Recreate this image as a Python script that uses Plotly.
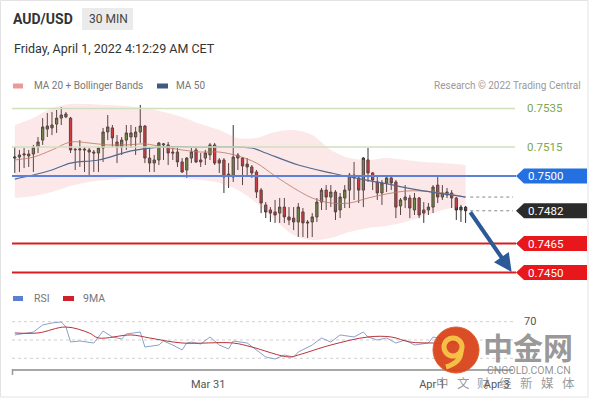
import plotly.graph_objects as go

W, H = 590, 400

# --- candles (30 min, AUD/USD) ---
opens = [0.75093, 0.75098, 0.75109, 0.75104, 0.75114, 0.75150, 0.75186, 0.75243, 0.75249, 0.75269,
         0.75300, 0.75306, 0.75300, 0.75135, 0.75135, 0.75140, 0.75135, 0.75124, 0.75119, 0.75145,
         0.75228, 0.75249, 0.75176, 0.75150, 0.75186, 0.75202, 0.75202, 0.75228, 0.75259, 0.75093,
         0.75067, 0.75083, 0.75161, 0.75161, 0.75124, 0.75124, 0.75073, 0.75031, 0.75093, 0.75135,
         0.75083, 0.75093, 0.75109, 0.75161, 0.75083, 0.75083, 0.75000, 0.74995, 0.75109, 0.75093,
         0.75062, 0.75047, 0.75021, 0.74927, 0.74850, 0.74824, 0.74814, 0.74808, 0.74839, 0.74788,
         0.74782, 0.74762, 0.74814, 0.74762, 0.74762, 0.74788, 0.74865, 0.74927, 0.74891, 0.74917,
         0.74824, 0.74886, 0.74927, 0.75005, 0.74990, 0.74927, 0.75083, 0.75016, 0.74969, 0.74912,
         0.74964, 0.74990, 0.74969, 0.74845, 0.74876, 0.74886, 0.74824, 0.74886, 0.74824, 0.74824,
         0.74839, 0.74953, 0.74891, 0.74902, 0.74912, 0.74886, 0.74824, 0.74839]
highs = [0.75150, 0.75135, 0.75145, 0.75135, 0.75161, 0.75202, 0.75300, 0.75326, 0.75332, 0.75342,
         0.75357, 0.75332, 0.75306, 0.75145, 0.75186, 0.75150, 0.75145, 0.75135, 0.75150, 0.75249,
         0.75316, 0.75264, 0.75212, 0.75202, 0.75264, 0.75264, 0.75254, 0.75368, 0.75264, 0.75150,
         0.75109, 0.75176, 0.75171, 0.75176, 0.75150, 0.75145, 0.75093, 0.75098, 0.75145, 0.75150,
         0.75119, 0.75135, 0.75171, 0.75171, 0.75093, 0.75093, 0.75067, 0.75264, 0.75119, 0.75098,
         0.75093, 0.75057, 0.75031, 0.74938, 0.74865, 0.74839, 0.74876, 0.74886, 0.74886, 0.74839,
         0.74839, 0.74860, 0.74834, 0.74772, 0.74808, 0.74886, 0.74938, 0.74953, 0.74953, 0.74927,
         0.74912, 0.74953, 0.75016, 0.75073, 0.74995, 0.75098, 0.75145, 0.75021, 0.74995, 0.74979,
         0.74995, 0.75005, 0.74979, 0.74886, 0.74953, 0.74902, 0.74912, 0.74891, 0.74865, 0.74860,
         0.74953, 0.75000, 0.74953, 0.74938, 0.74927, 0.74891, 0.74850, 0.74845]
lows = [0.75016, 0.75021, 0.75041, 0.75047, 0.75021, 0.75119, 0.75161, 0.75202, 0.75212, 0.75223,
        0.75264, 0.75300, 0.75119, 0.75031, 0.75047, 0.75021, 0.74995, 0.75021, 0.75021, 0.75073,
        0.75186, 0.75150, 0.75067, 0.75109, 0.75135, 0.75145, 0.75109, 0.75171, 0.75067, 0.75021,
        0.75021, 0.75057, 0.75083, 0.75057, 0.75083, 0.75047, 0.75016, 0.74990, 0.75067, 0.75067,
        0.75047, 0.75057, 0.75083, 0.75057, 0.75016, 0.74912, 0.74938, 0.74969, 0.75031, 0.74953,
        0.74995, 0.74990, 0.74886, 0.74808, 0.74782, 0.74762, 0.74757, 0.74757, 0.74757, 0.74746,
        0.74720, 0.74684, 0.74684, 0.74679, 0.74684, 0.74762, 0.74824, 0.74824, 0.74839, 0.74772,
        0.74782, 0.74834, 0.74834, 0.74876, 0.74860, 0.74839, 0.74969, 0.74927, 0.74876, 0.74850,
        0.74917, 0.74927, 0.74782, 0.74798, 0.74834, 0.74782, 0.74798, 0.74782, 0.74757, 0.74798,
        0.74808, 0.74860, 0.74876, 0.74886, 0.74834, 0.74772, 0.74762, 0.74757]
closes = [0.75098, 0.75109, 0.75114, 0.75114, 0.75150, 0.75176, 0.75254, 0.75259, 0.75264, 0.75300,
          0.75316, 0.75321, 0.75135, 0.75138, 0.75140, 0.75135, 0.75124, 0.75119, 0.75145, 0.75228,
          0.75254, 0.75197, 0.75150, 0.75186, 0.75223, 0.75223, 0.75228, 0.75259, 0.75093, 0.75067,
          0.75083, 0.75171, 0.75166, 0.75119, 0.75119, 0.75073, 0.75021, 0.75093, 0.75124, 0.75073,
          0.75073, 0.75119, 0.75161, 0.75067, 0.75067, 0.74995, 0.75010, 0.75098, 0.75093, 0.75052,
          0.75047, 0.75016, 0.74917, 0.74860, 0.74814, 0.74808, 0.74798, 0.74839, 0.74788, 0.74772,
          0.74762, 0.74839, 0.74757, 0.74757, 0.74788, 0.74865, 0.74927, 0.74891, 0.74917, 0.74814,
          0.74891, 0.74927, 0.75005, 0.74990, 0.74927, 0.75093, 0.75016, 0.74979, 0.74912, 0.74964,
          0.74990, 0.74964, 0.74839, 0.74876, 0.74891, 0.74834, 0.74886, 0.74798, 0.74808, 0.74839,
          0.74943, 0.74891, 0.74912, 0.74917, 0.74886, 0.74824, 0.74839, 0.74820]
bars = list(range(len(closes)))

# --- indicators, read at every 4th bar ---
ind_bars = [0, 4, 8, 12, 16, 20, 24, 28, 32, 36, 40, 44, 48, 52, 56, 60, 64, 68, 72, 76, 80, 84, 88, 92, 97]
ma20 = [0.75083, 0.75098, 0.75135, 0.75176, 0.75171, 0.75161, 0.75161, 0.75166, 0.75150, 0.75135,
        0.75124, 0.75124, 0.75104, 0.75067, 0.75000, 0.74938, 0.74886, 0.74860, 0.74860, 0.74886,
        0.74907, 0.74922, 0.74922, 0.74912, 0.74891]
bb_upper = [0.75264, 0.75300, 0.75352, 0.75373, 0.75373, 0.75368, 0.75363, 0.75352, 0.75332, 0.75306,
            0.75269, 0.75238, 0.75197, 0.75197, 0.75228, 0.75238, 0.75212, 0.75135, 0.75093, 0.75083,
            0.75093, 0.75083, 0.75073, 0.75067, 0.75057]
bb_lower = [0.74886, 0.74896, 0.74917, 0.74948, 0.74969, 0.74979, 0.74990, 0.74990, 0.74990, 0.74990,
            0.74979, 0.74964, 0.74927, 0.74860, 0.74772, 0.74694, 0.74668, 0.74679, 0.74710, 0.74731,
            0.74741, 0.74762, 0.74793, 0.74824, 0.74850]
ma50_bars = [0, 4, 8, 12, 18, 25, 31, 40, 51, 54, 61, 68, 71, 79, 87, 97]
ma50 = [0.74984, 0.75005, 0.75031, 0.75067, 0.75083, 0.75130, 0.75150, 0.75150, 0.75145, 0.75119,
        0.75057, 0.75016, 0.75000, 0.74964, 0.74927, 0.74891]

# --- RSI panel ---
rsi_bars = [0, 4, 6, 8, 10, 11, 12, 14, 17, 19, 21, 23, 24, 26, 27, 28, 31, 32, 34, 36, 37, 38, 40,
            42, 44, 46, 47, 50, 52, 54, 56, 58, 60, 61, 64, 66, 68, 70, 73, 75, 76, 78, 80, 82, 84,
            86, 89, 90, 93, 97]
rsi = [55.5, 58.7, 66.4, 68.6, 69.7, 64.2, 47.8, 48.9, 46.7, 59.8, 53.3, 51.1, 56.6, 57.7, 58.7, 42.3,
       44.5, 48.9, 44.5, 39.1, 46.7, 47.8, 45.6, 53.3, 44.5, 40.2, 48.9, 46.7, 39.1, 31.4, 29.2, 33.6,
       31.4, 36.9, 44.5, 52.2, 47.8, 55.5, 53.3, 58.7, 53.3, 50.0, 52.2, 46.7, 50.0, 44.5, 46.7, 53.3,
       50.0, 45.0]
ma9_bars = [0, 5, 11, 16, 18, 25, 29, 36, 47, 51, 59, 61, 68, 76, 81, 85, 90, 97]
ma9 = [57.7, 57.7, 64.2, 57.7, 52.2, 55.5, 52.2, 46.7, 46.7, 42.3, 31.4, 33.6, 44.5, 53.3, 53.3, 47.8,
       46.7, 47.0]
rsi_grid = [70, 50, 30]

# --- key levels ---
resist = [0.7535, 0.7515]
pivot = 0.7500
last_price = 0.7482
supports = [0.7465, 0.7450]

x_ticks = [41.6, 89.8, 103.7]
x_ticklabels = ['Mar 31', 'Apr 1', 'Apr 3']

# watermark
wm_chars = ['中', '文', '财', '经', '新', '媒', '体']

FONT = 'Roboto, Arial, sans-serif'
CJK = 'Noto Sans CJK SC'


def px(x):
    return x / W


def py(y):
    return 1 - y / H


X_LEFT, X_RIGHT = 12, 513
X_RANGE = [-0.6, 107.2]

fig = go.Figure()

# Bollinger band fill
fig.add_trace(go.Scatter(x=ind_bars, y=bb_upper, mode='lines', line=dict(width=0, shape='spline'),
                         hoverinfo='skip', xaxis='x', yaxis='y'))
fig.add_trace(go.Scatter(x=ind_bars, y=bb_lower, mode='lines', line=dict(width=0, shape='spline'),
                         fill='tonexty', fillcolor='rgba(240,140,140,0.2)', hoverinfo='skip',
                         xaxis='x', yaxis='y'))
fig.add_trace(go.Scatter(x=ind_bars, y=ma20, mode='lines',
                         line=dict(color='rgba(185,120,100,0.8)', width=1, shape='spline'),
                         xaxis='x', yaxis='y'))
fig.add_trace(go.Scatter(x=ma50_bars, y=ma50, mode='lines',
                         line=dict(color='#55698c', width=1.2, shape='spline'),
                         xaxis='x', yaxis='y'))

fig.add_trace(go.Candlestick(
    x=bars, open=opens, high=highs, low=lows, close=closes,
    increasing=dict(line=dict(color='#333333', width=1), fillcolor='#4f8a32'),
    decreasing=dict(line=dict(color='#333333', width=1), fillcolor='#c9282d'),
    whiskerwidth=0, xaxis='x', yaxis='y'))

# RSI panel
fig.add_trace(go.Scatter(x=rsi_bars, y=rsi, mode='lines', line=dict(color='#8d9fc9', width=1),
                         xaxis='x2', yaxis='y2'))
fig.add_trace(go.Scatter(x=ma9_bars, y=ma9, mode='lines',
                         line=dict(color='#b8333a', width=1, shape='spline'),
                         xaxis='x2', yaxis='y2'))

shapes = []
annotations = []

# frame
shapes.append(dict(type='rect', xref='paper', yref='paper', x0=px(0.5), x1=px(588), y0=py(397), y1=py(0.5),
                   line=dict(color='#e3e3e3', width=1)))

# header
shapes.append(dict(type='rect', xref='paper', yref='paper', x0=px(82), x1=px(133), y0=py(30), y1=py(8),
                   fillcolor='#ebebeb', line=dict(width=0)))
annotations.append(dict(text='<b>AUD/USD</b>', x=px(11), y=py(19), xanchor='left', yanchor='middle',
                        font=dict(size=14, color='#333333')))
annotations.append(dict(text='30 MIN', x=px(108), y=py(19), xanchor='center', yanchor='middle',
                        font=dict(size=12, color='#444444')))
annotations.append(dict(text='Friday, April 1, 2022 4:12:29 AM CET', x=px(12), y=py(48), xanchor='left',
                        yanchor='middle', font=dict(size=12.5, color='#333333')))

# legend row
shapes.append(dict(type='rect', xref='paper', yref='paper', x0=px(13), x1=px(23), y0=py(88.5), y1=py(83.5),
                   fillcolor='#eb9a9a', line=dict(width=0)))
annotations.append(dict(text='MA 20 + Bollinger Bands', x=px(32), y=py(86), xanchor='left', yanchor='middle',
                        font=dict(size=10, color='#777777')))
shapes.append(dict(type='rect', xref='paper', yref='paper', x0=px(157), x1=px(168), y0=py(88.5), y1=py(83.5),
                   fillcolor='#3e5a82', line=dict(width=0)))
annotations.append(dict(text='MA 50', x=px(174), y=py(86), xanchor='left', yanchor='middle',
                        font=dict(size=10, color='#777777')))
annotations.append(dict(text='Research © 2022 Trading Central', x=px(583), y=py(86), xanchor='right',
                        yanchor='middle', font=dict(size=10, color='#9a9a9a')))


def tag(level, color):
    shapes.append(dict(type='path', xref='paper', yref='y', ysizemode='pixel', yanchor=level,
                       path=f'M {px(516)},0 L {px(524)},7.5 L {px(587)},7.5 L {px(587)},-7.5 '
                            f'L {px(524)},-7.5 Z',
                       fillcolor=color, line=dict(width=0)))
    annotations.append(dict(text=f'{level:.4f}', xref='paper', yref='y', x=px(526), y=level,
                            xanchor='left', yanchor='middle', font=dict(size=11.5, color='white')))


for lvl in resist:
    shapes.append(dict(type='line', xref='paper', yref='y', x0=px(X_LEFT), x1=px(515), y0=lvl, y1=lvl,
                       line=dict(color='#cfe0bd', width=1.5)))
    annotations.append(dict(text=f'{lvl:.4f}', xref='paper', yref='y', x=px(525), y=lvl,
                            xanchor='left', yanchor='middle', font=dict(size=11.5, color='#7da64e')))

shapes.append(dict(type='line', xref='paper', yref='y', x0=px(X_LEFT), x1=px(516), y0=pivot, y1=pivot,
                   line=dict(color='#5b82d6', width=2)))
tag(pivot, '#2470e0')

for lvl in supports:
    shapes.append(dict(type='line', xref='paper', yref='y', x0=px(X_LEFT), x1=px(516), y0=lvl, y1=lvl,
                       line=dict(color='#d81e1e', width=2)))
    tag(lvl, '#e8171c')

# dotted extensions from the last bar
shapes.append(dict(type='line', xref='x', yref='y', x0=bars[-1] + 1, x1=X_RANGE[1], y0=ma50[-1], y1=ma50[-1],
                   line=dict(color='#888888', width=1, dash='dot')))
shapes.append(dict(type='line', xref='x', yref='y', x0=bars[-1] + 1, x1=X_RANGE[1], y0=last_price,
                   y1=last_price, line=dict(color='#888888', width=1, dash='dot')))
tag(last_price, '#2b2b2b')

# forecast arrow
annotations.append(dict(text='', xref='x', yref='y', x=106.9, y=supports[1] + 0.00003,
                        axref='x', ayref='y', ax=bars[-1] + 0.8, ay=last_price,
                        showarrow=True, arrowhead=2, arrowsize=0.9, arrowwidth=4, arrowcolor='#2c5a98'))

# RSI legend
shapes.append(dict(type='rect', xref='paper', yref='paper', x0=px(13), x1=px(23), y0=py(301), y1=py(296),
                   fillcolor='#5b7fd2', line=dict(width=0)))
annotations.append(dict(text='RSI', x=px(32), y=py(298.5), xanchor='left', yanchor='middle',
                        font=dict(size=10.5, color='#777777')))
shapes.append(dict(type='rect', xref='paper', yref='paper', x0=px(63), x1=px(74), y0=py(301), y1=py(296),
                   fillcolor='#d0202a', line=dict(width=0)))
annotations.append(dict(text='9MA', x=px(81), y=py(298.5), xanchor='left', yanchor='middle',
                        font=dict(size=10.5, color='#777777')))

for g in rsi_grid:
    shapes.append(dict(type='line', xref='paper', yref='y2', x0=px(X_LEFT), x1=px(X_RIGHT), y0=g, y1=g,
                       line=dict(color='#cfcfcf', width=1, dash='dot'), layer='below'))
annotations.append(dict(text=str(rsi_grid[0]), xref='paper', yref='y2', x=px(530), y=rsi_grid[0],
                        xanchor='center', yanchor='middle', font=dict(size=11, color='#555555')))
shapes.append(dict(type='line', xref='paper', yref='paper', x0=px(X_LEFT + 0.5), x1=px(X_LEFT + 0.5),
                   y0=py(375), y1=py(369), line=dict(color='#999999', width=1.5)))

# watermark
shapes.append(dict(type='circle', xref='paper', yref='paper', x0=px(433), x1=px(479), y0=py(373), y1=py(327),
                   fillcolor='#d9441c', line=dict(color='#e0561f', width=1), opacity=0.95))
shapes.append(dict(type='circle', xref='paper', yref='paper', x0=px(444), x1=px(462), y0=py(356), y1=py(338),
                   line=dict(color='#f7c548', width=5), opacity=0.95))
shapes.append(dict(type='path', xref='paper', yref='paper',
                   path=f'M {px(461)},{py(350)} Q {px(462)},{py(362)} {px(446)},{py(367)}',
                   line=dict(color='#f7c548', width=5), opacity=0.95))
annotations.append(dict(text='<b>中金网</b>', x=px(528), y=py(345.5), xanchor='center', yanchor='middle',
                        font=dict(size=30, color='rgba(125,125,125,0.8)', family=CJK)))
annotations.append(dict(text='CNGOLD.COM.CN', x=px(529), y=py(370), xanchor='center', yanchor='middle',
                        font=dict(size=10.5, color='rgba(120,120,120,0.8)', family=FONT)))
for k, ch in enumerate(wm_chars):
    annotations.append(dict(text=ch, x=px(442 + 21 * k), y=py(382.5), xanchor='center', yanchor='middle',
                            font=dict(size=12.5, color='rgba(120,120,120,0.75)', family=CJK)))

for a in annotations:
    a.setdefault('xref', 'paper')
    a.setdefault('yref', 'paper')
    a.setdefault('showarrow', False)

fig.update_layout(
    width=W, height=H,
    margin=dict(l=0, r=0, t=0, b=0),
    paper_bgcolor='white', plot_bgcolor='rgba(0,0,0,0)',
    showlegend=False,
    font=dict(family=FONT),
    shapes=shapes, annotations=annotations,
    xaxis=dict(domain=[px(X_LEFT), px(X_RIGHT)], range=X_RANGE, anchor='y', visible=False,
               rangeslider=dict(visible=False)),
    yaxis=dict(domain=[py(282), py(98)], range=[0.74451, 0.75404], visible=False),
    xaxis2=dict(domain=[px(X_LEFT), px(X_RIGHT)], range=X_RANGE, anchor='y2', showline=True,
                linecolor='#a8a8a8', linewidth=2, showgrid=False, zeroline=False,
                tickvals=x_ticks, ticktext=x_ticklabels, ticks='', ticklabelstandoff=4,
                tickfont=dict(size=11, color='#555555')),
    yaxis2=dict(domain=[py(369), py(315)], range=[18.3, 77.3], visible=False),
)

fig.write_html('out.html', config={'displayModeBar': False},
               post_script="document.body.style.margin='0';")
